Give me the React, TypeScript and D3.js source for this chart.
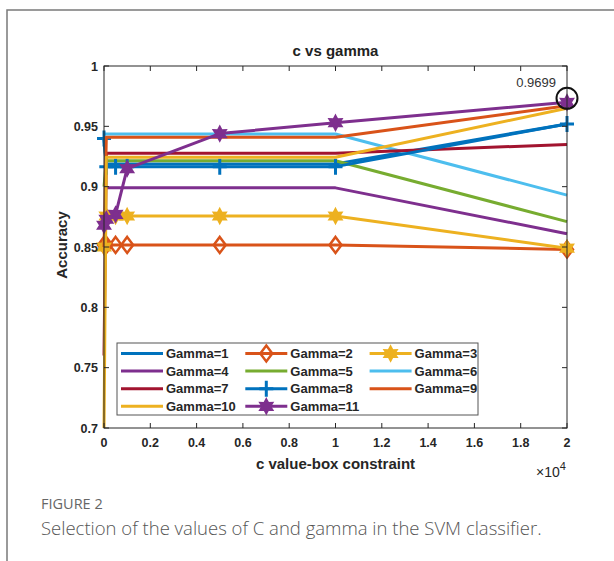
import React from "react";
import * as d3 from "d3";

const cValues = [1, 100, 500, 1000, 5000, 10000, 20000];
const seriesNames = ["Gamma=1","Gamma=2","Gamma=3","Gamma=4","Gamma=5","Gamma=6","Gamma=7","Gamma=8","Gamma=9","Gamma=10","Gamma=11"];
const gamma1 = [0.94, 0.9188, 0.9188, 0.9188, 0.9188, 0.9188, 0.952];
const gamma2 = [0.8517, 0.8517, 0.8517, 0.8517, 0.8517, 0.8517, 0.848];
const gamma3 = [0.85, 0.8757, 0.8757, 0.8757, 0.8757, 0.8757, 0.849];
const gamma4 = [0.899, 0.899, 0.899, 0.899, 0.899, 0.899, 0.861];
const gamma5 = [0.9, 0.9215, 0.9215, 0.9215, 0.9215, 0.9215, 0.871];
const gamma6 = [0.9436, 0.9436, 0.9436, 0.9436, 0.9436, 0.9436, 0.893];
const gamma7 = [0.76, 0.9277, 0.9277, 0.9277, 0.9277, 0.9277, 0.935];
const gamma8 = [0.94, 0.9166, 0.9166, 0.9166, 0.9166, 0.9166, 0.952];
const gamma9 = [0.85, 0.941, 0.941, 0.941, 0.941, 0.941, 0.967];
const gamma10 = [0.7, 0.9244, 0.9244, 0.9244, 0.9244, 0.9244, 0.965];
const gamma11 = [0.868, 0.873, 0.877, 0.915, 0.944, 0.953, 0.9699];
const allSeries = [gamma1, gamma2, gamma3, gamma4, gamma5, gamma6, gamma7, gamma8, gamma9, gamma10, gamma11];
const markerTypes = ["none","diamond","hexagram","none","none","none","none","plus","none","none","hexagram"];
const colors = ["#0072BD","#D95319","#EDB120","#7E2F8E","#77AC30","#4DBEEE","#A2142F","#0072BD","#D95319","#EDB120","#7E2F8E"];
const xTicks = [0, 2000, 4000, 6000, 8000, 10000, 12000, 14000, 16000, 18000, 20000];
const xTickLabels = ["0","0.2","0.4","0.6","0.8","1","1.2","1.4","1.6","1.8","2"];
const yTicks = [0.7, 0.75, 0.8, 0.85, 0.9, 0.95, 1];
const yTickLabels = ["0.7","0.75","0.8","0.85","0.9","0.95","1"];
const peakLabel = "0.9699";

const FONT = "'Liberation Sans', Arial, sans-serif";
const CAPFONT = "'Open Sans', 'Noto Sans', sans-serif";

function hexagramPath(r: number) {
  const pts: string[] = [];
  const inner = r * 0.55;
  for (let i = 0; i < 12; i++) {
    const a = -Math.PI / 2 + (i * Math.PI) / 6;
    const rr = i % 2 === 0 ? r : inner;
    pts.push(`${(rr * Math.cos(a)).toFixed(2)},${(rr * Math.sin(a)).toFixed(2)}`);
  }
  return "M" + pts.join("L") + "Z";
}

function Marker({ type, color, x, y }: { type: string; color: string; x: number; y: number }) {
  if (type === "diamond") {
    return <path d="M0,-8L6,0L0,8L-6,0Z" transform={`translate(${x},${y})`} fill="none" stroke={color} strokeWidth={2.5} />;
  }
  if (type === "hexagram") {
    return <path d={hexagramPath(6.5)} transform={`translate(${x},${y})`} fill={color} stroke={color} strokeWidth={2.5} strokeLinejoin="miter" />;
  }
  if (type === "plus") {
    return <path d="M-7,0H7M0,-8V8" transform={`translate(${x},${y})`} fill="none" stroke={color} strokeWidth={3} />;
  }
  return null;
}

export default function App() {
  const left = 104, right = 567, top = 66, bottom = 428;
  const x = d3.scaleLinear().domain([0, 20000]).range([left, right]);
  const y = d3.scaleLinear().domain([0.7, 1]).range([bottom, top]);
  const line = d3.line<number>().x((_, i) => x(cValues[i])).y((d) => y(d));

  const legendX = 117, legendY = 343, legendW = 361, legendH = 72;
  const colStep = 124.3, rowStep = 17.6;

  const peakX = x(cValues[cValues.length - 1]);
  const peakY = y(gamma11[gamma11.length - 1]);

  return (
    <svg width={614} height={561} style={{ position: "absolute", left: 0, top: 0, background: "#fff" }}>
      <rect x={0} y={0} width={614} height={561} fill="#fff" />
      <rect x={7} y={10} width={640} height={600} fill="none" stroke="#7a7a7a" strokeWidth={1.5} />

      {/* title */}
      <text x={(left + right) / 2} y={56} textAnchor="middle" fontFamily={FONT} fontWeight="bold" fontSize={15} fill="#222">c vs gamma</text>

      {/* series */}
      {allSeries.map((s, k) => (
        <g key={k}>
          <path d={line(s) || ""} fill="none" stroke={colors[k]} strokeWidth={3} strokeLinejoin="round" />
          {markerTypes[k] !== "none" && s.map((v, i) => (
            <Marker key={i} type={markerTypes[k]} color={colors[k]} x={x(cValues[i])} y={y(v)} />
          ))}
        </g>
      ))}

      {/* axes box */}
      <rect x={left} y={top} width={right - left} height={bottom - top} fill="none" stroke="#262626" strokeWidth={1} />
      {xTicks.map((t, i) => (
        <g key={"xt" + i}>
          <line x1={x(t)} x2={x(t)} y1={bottom} y2={bottom - 5} stroke="#262626" />
          <line x1={x(t)} x2={x(t)} y1={top} y2={top + 5} stroke="#262626" />
          <text x={x(t)} y={447} textAnchor="middle" fontFamily={FONT} fontWeight="bold" fontSize={12.5} fill="#262626">{xTickLabels[i]}</text>
        </g>
      ))}
      {yTicks.map((t, i) => (
        <g key={"yt" + i}>
          <line x1={left} x2={left + 5} y1={y(t)} y2={y(t)} stroke="#262626" />
          <line x1={right} x2={right - 5} y1={y(t)} y2={y(t)} stroke="#262626" />
          <text x={98} y={y(t) + 4.5} textAnchor="end" fontFamily={FONT} fontWeight="bold" fontSize={12.5} fill="#262626">{yTickLabels[i]}</text>
        </g>
      ))}
      <text x={(left + right) / 2} y={469} textAnchor="middle" fontFamily={FONT} fontWeight="bold" fontSize={15} fill="#262626">c value-box constraint</text>
      <text x={551} y={477} textAnchor="middle" fontFamily={FONT} fontSize={14} fill="#262626">
        ×10<tspan dy={-7} fontSize={11}>4</tspan>
      </text>
      <text transform={`translate(67,${245}) rotate(-90)`} textAnchor="middle" fontFamily={FONT} fontWeight="bold" fontSize={15} fill="#262626">Accuracy</text>

      {/* annotation */}
      <circle cx={peakX} cy={peakY - 4} r={10.5} fill="none" stroke="#111" strokeWidth={2} />
      <text x={556} y={87} textAnchor="end" fontFamily={FONT} fontSize={13} fill="#333">{peakLabel}</text>

      {/* legend */}
      <rect x={legendX} y={legendY} width={legendW} height={legendH} fill="#fff" stroke="#555" strokeWidth={1} />
      {seriesNames.map((name, k) => {
        const col = k % 3, row = Math.floor(k / 3);
        const lx = legendX + 4 + col * colStep;
        const ly = legendY + 10.5 + row * rowStep;
        return (
          <g key={"lg" + k}>
            <line x1={lx} x2={lx + 42} y1={ly} y2={ly} stroke={colors[k]} strokeWidth={3} />
            {markerTypes[k] !== "none" && <Marker type={markerTypes[k]} color={colors[k]} x={lx + 21} y={ly} />}
            <text x={lx + 45} y={ly + 4.5} fontFamily={FONT} fontWeight="bold" fontSize={13} fill="#262626">{name}</text>
          </g>
        );
      })}

      {/* caption */}
      <text x={41} y={509} fontFamily={CAPFONT} fontSize={14.5} fill="#666">FIGURE 2</text>
      <text x={41} y={535} fontFamily={CAPFONT} fontWeight={300} fontSize={18.5} fill="#555">Selection of the values of C and gamma in the SVM classifier.</text>
    </svg>
  );
}
